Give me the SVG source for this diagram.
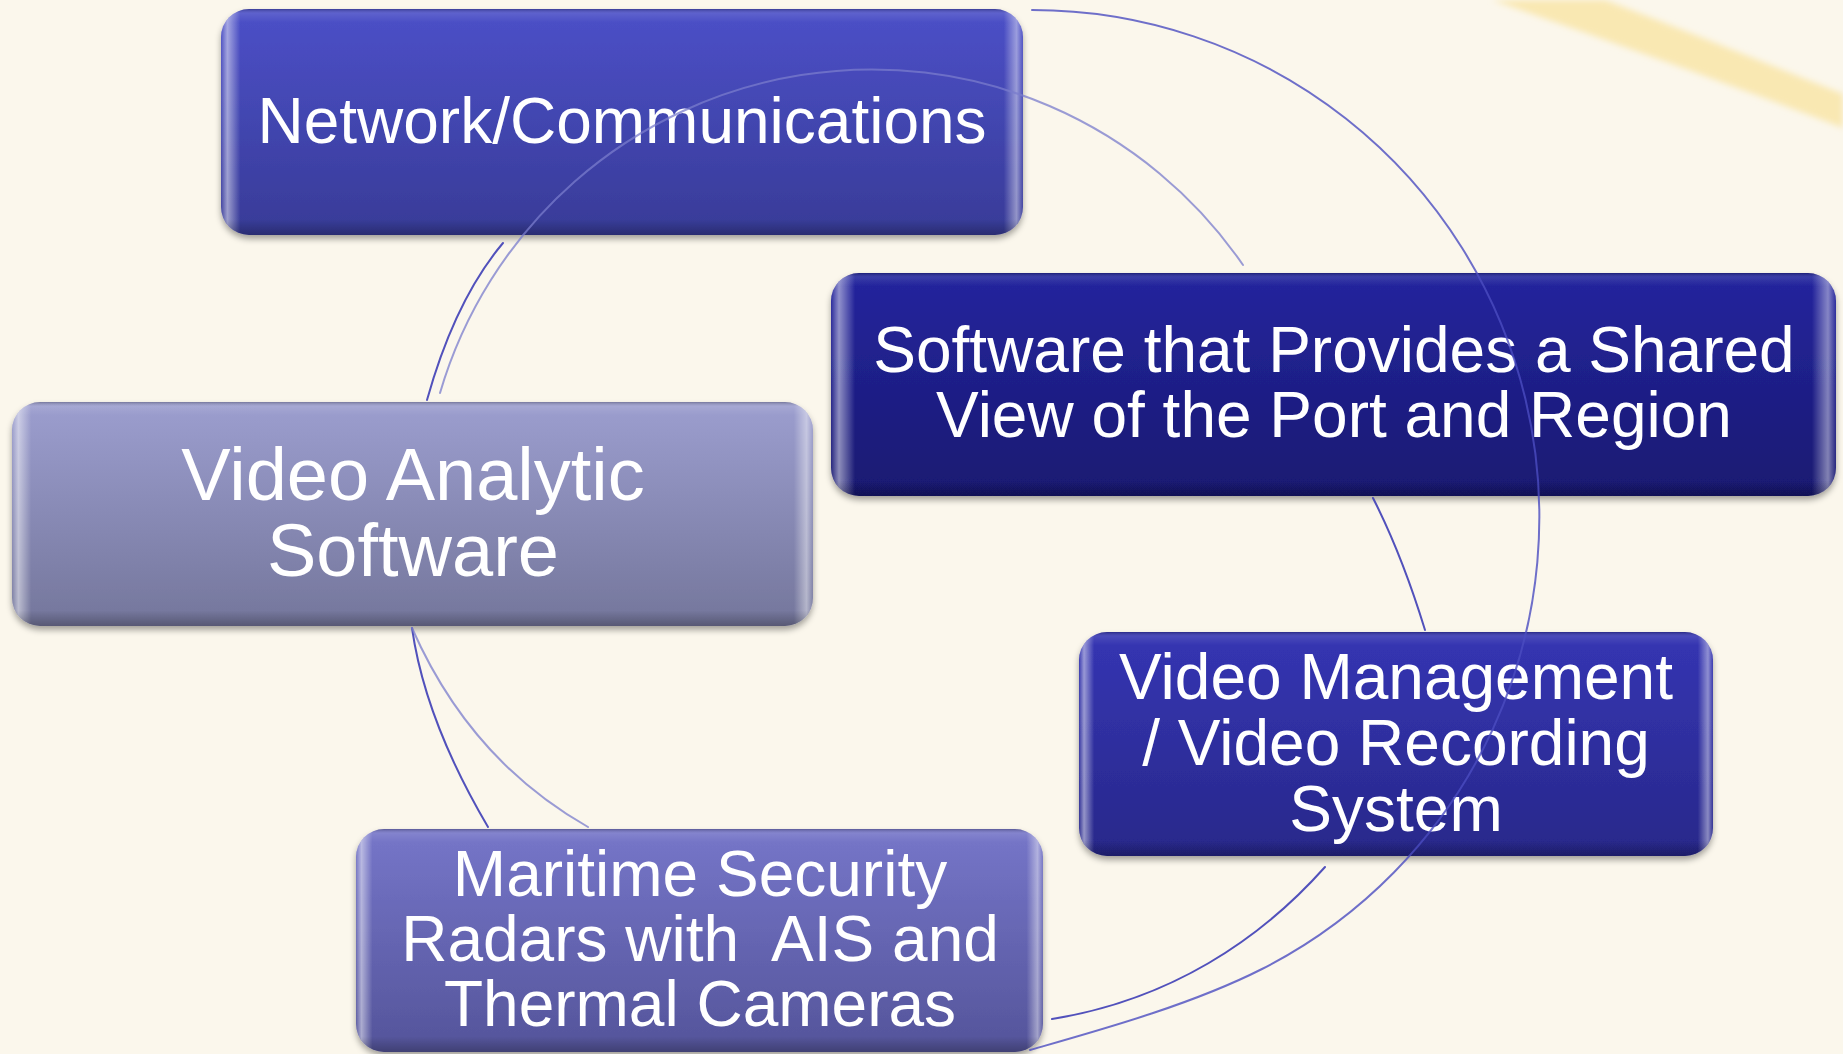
<svg xmlns="http://www.w3.org/2000/svg" width="1843" height="1054" viewBox="0 0 1843 1054">
  <defs>
    <style>
      .lbl { font-family: "Liberation Sans", Arial, sans-serif; fill: #ffffff; text-anchor: middle; font-size: 64px; }
      .big { font-size: 74px; }
      .box { filter: url(#shadow); }
      .hl { fill: url(#edgeH); }
      .hv { fill: url(#edgeV); }
      .dark { fill: none; stroke: #3e3eb6; stroke-width: 2; stroke-linecap: round; opacity: 0.9; }
      .light { fill: none; stroke: #7a7ccc; stroke-width: 2; stroke-linecap: round; opacity: 0.75; }
      .outer { fill: none; stroke: #4b4cc0; stroke-width: 2; stroke-linecap: round; opacity: 0.8; }
    </style>
    <filter id="shadow" x="-5%" y="-10%" width="110%" height="125%">
      <feDropShadow dx="0" dy="4" stdDeviation="3" flood-color="#000" flood-opacity="0.35"/>
    </filter>
    <filter id="blur" x="-10%" y="-50%" width="120%" height="200%">
      <feGaussianBlur stdDeviation="3"/>
    </filter>
    <linearGradient id="edgeH" x1="0" y1="0" x2="1" y2="0">
      <stop offset="0" stop-color="#fff" stop-opacity="0.05"/>
      <stop offset="0.008" stop-color="#fff" stop-opacity="0.5"/>
      <stop offset="0.024" stop-color="#fff" stop-opacity="0"/>
      <stop offset="0.976" stop-color="#fff" stop-opacity="0"/>
      <stop offset="0.992" stop-color="#fff" stop-opacity="0.45"/>
      <stop offset="1" stop-color="#fff" stop-opacity="0.05"/>
    </linearGradient>
    <linearGradient id="edgeV" x1="0" y1="0" x2="0" y2="1">
      <stop offset="0" stop-color="#000" stop-opacity="0.25"/>
      <stop offset="0.02" stop-color="#fff" stop-opacity="0.1"/>
      <stop offset="0.06" stop-color="#fff" stop-opacity="0"/>
      <stop offset="0.93" stop-color="#000" stop-opacity="0"/>
      <stop offset="1" stop-color="#000" stop-opacity="0.25"/>
    </linearGradient>
    <linearGradient id="gNet" x1="0" y1="0" x2="0" y2="1">
      <stop offset="0" stop-color="#4c50c8"/>
      <stop offset="1" stop-color="#383b97"/>
    </linearGradient>
    <linearGradient id="gSoft" x1="0" y1="0" x2="0" y2="1">
      <stop offset="0" stop-color="#24259e"/>
      <stop offset="1" stop-color="#191971"/>
    </linearGradient>
    <linearGradient id="gVA" x1="0" y1="0" x2="0" y2="1">
      <stop offset="0" stop-color="#9c9ecf"/>
      <stop offset="1" stop-color="#74769b"/>
    </linearGradient>
    <linearGradient id="gVM" x1="0" y1="0" x2="0" y2="1">
      <stop offset="0" stop-color="#3535b3"/>
      <stop offset="1" stop-color="#28288a"/>
    </linearGradient>
    <linearGradient id="gMar" x1="0" y1="0" x2="0" y2="1">
      <stop offset="0" stop-color="#7676c9"/>
      <stop offset="1" stop-color="#54549a"/>
    </linearGradient>
  </defs>

  <rect x="0" y="0" width="1843" height="1054" fill="#fbf7ec"/>
  <path d="M1492,0 L1605,0 C1685,30 1762,62 1843,94 L1843,128 C1740,88 1618,44 1492,0 Z" fill="#f9e8b2" filter="url(#blur)"/>

  <g id="node-network">
    <rect class="box" x="221" y="9" width="802" height="226" rx="28" fill="url(#gNet)"/>
    <rect class="hl" x="221" y="9" width="802" height="226" rx="28"/>
    <rect class="hv" x="221" y="9" width="802" height="226" rx="28"/>
    <text class="lbl" x="622" y="143">Network/Communications</text>
  </g>

  <g id="node-software">
    <rect class="box" x="831" y="273" width="1005" height="223" rx="28" fill="url(#gSoft)"/>
    <rect class="hl" x="831" y="273" width="1005" height="223" rx="28"/>
    <rect class="hv" x="831" y="273" width="1005" height="223" rx="28"/>
    <text class="lbl" x="1334" y="372">Software that Provides a Shared</text>
    <text class="lbl" x="1334" y="437">View of the Port and Region</text>
  </g>

  <g id="node-video-analytic">
    <rect class="box" x="12" y="402" width="801" height="224" rx="28" fill="url(#gVA)"/>
    <rect class="hl" x="12" y="402" width="801" height="224" rx="28"/>
    <rect class="hv" x="12" y="402" width="801" height="224" rx="28"/>
    <text class="lbl big" x="413" y="500">Video Analytic</text>
    <text class="lbl big" x="413" y="576">Software</text>
  </g>

  <g id="node-video-management">
    <rect class="box" x="1079" y="632" width="634" height="224" rx="28" fill="url(#gVM)"/>
    <rect class="hl" x="1079" y="632" width="634" height="224" rx="28"/>
    <rect class="hv" x="1079" y="632" width="634" height="224" rx="28"/>
    <text class="lbl" x="1396" y="699">Video Management</text>
    <text class="lbl" x="1396" y="765">/ Video Recording</text>
    <text class="lbl" x="1396" y="831">System</text>
  </g>

  <g id="node-maritime">
    <rect class="box" x="356" y="829" width="687" height="223" rx="28" fill="url(#gMar)"/>
    <rect class="hl" x="356" y="829" width="687" height="223" rx="28"/>
    <rect class="hv" x="356" y="829" width="687" height="223" rx="28"/>
    <text class="lbl" x="700" y="896">Maritime Security</text>
    <text class="lbl" x="700" y="961" xml:space="preserve">Radars with  AIS and</text>
    <text class="lbl" x="700" y="1026">Thermal Cameras</text>
  </g>

  <g id="connectors">
    <path class="outer" d="M1032,10 A507,507 0 0,1 1262,969 C1191,1005 1100,1030 1030,1050"/>
    <path class="light" d="M440,393 A450,450 0 0,1 1243,265"/>
    <path class="dark" d="M503,243 Q455,300 427,400"/>
    <path class="dark" d="M412,628 Q425,720 488,827"/>
    <path class="light" d="M412,628 Q470,760 588,827"/>
    <path class="dark" d="M1373,498 Q1402,555 1425,630"/>
    <path class="dark" d="M1325,867 C1260,940 1170,1000 1052,1019"/>
  </g>
</svg>
